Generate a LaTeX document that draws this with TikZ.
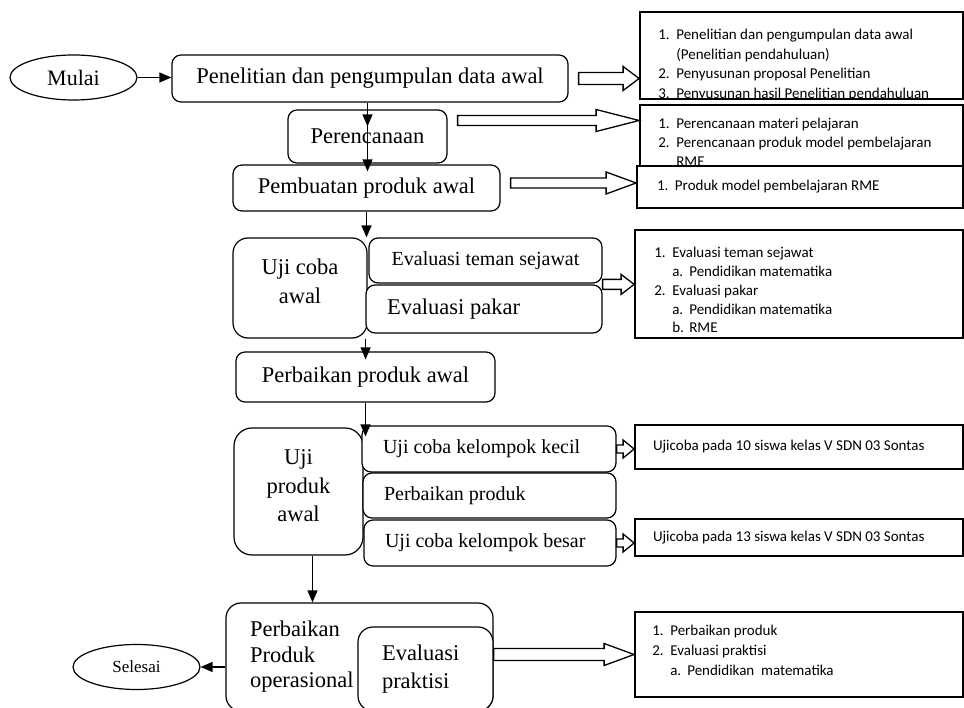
\documentclass[tikz,border=0pt]{standalone}
\usepackage{fontspec}
\setmainfont{Liberation Serif}
\newfontfamily\calibri{Carlito}
\usetikzlibrary{shapes.geometric,arrows.meta,positioning,calc}

\newcommand{\itm}[2]{\makebox[18pt][l]{#1}#2}
\newcommand{\subitm}[2]{\hspace*{18pt}\makebox[17pt][l]{#1}#2}
\newcommand{\hollowarrow}[5]{%
  \draw[hollow] let \p1=#1, \p2=#2 in
    (\x1,\y1+#3) -- (\x2-#5,\y1+#3) -- (\x2-#5,\y1+#4) -- (\x2,\y1)
    -- (\x2-#5,\y1-#4) -- (\x2-#5,\y1-#3) -- (\x1,\y1-#3) -- cycle;}

\begin{document}
\begin{tikzpicture}[x=1pt, y=-1pt,
    proc/.style={rectangle, rounded corners=9pt, draw, line width=1.2pt, fill=white,
                 inner sep=0pt, align=center, font=\fontsize{22.5}{29}\selectfont},
    sub/.style={proc, font=\fontsize{20}{24}\selectfont},
    term/.style={ellipse, draw, line width=1.2pt, inner sep=0pt,
                 minimum width=127pt, minimum height=45pt},
    note/.style={rectangle, draw, line width=1.8pt, fill=white, inner ysep=0pt,
                 font=\calibri\fontsize{15}{18.5}\selectfont},
    items/.style={inner sep=0pt, anchor=north west, align=left,
                  font=\calibri\fontsize{15}{18.8}\selectfont},
    hollow/.style={draw, line width=1.3pt, fill=white, line join=miter},
    arr/.style={-{Triangle[length=12pt,width=10pt]}, line width=1.3pt}
]
\fill[white] (0,0) rectangle (964,708);
\useasboundingbox (0,0) rectangle (964,708);

\node[term, font=\fontsize{22}{26}\selectfont] (mulai) at (73.5,77.5) {Mulai};
\node[proc, minimum width=396pt, minimum height=47pt] (penelitian) at (370,78.5) {Penelitian dan pengumpulan data awal};
\node[proc, minimum width=159pt, minimum height=53pt] (perencanaan) at (367.5,136.5) {Perencanaan};
\node[proc, minimum width=267pt, minimum height=46pt] (pembuatan) at (366.5,188) {Pembuatan produk awal};
\node[proc, rounded corners=15pt, minimum width=134pt, minimum height=100pt, text depth=14pt] (ujiawal) at (300,288) {Uji coba\\awal};
\node[sub, minimum width=233pt, minimum height=45pt] (evteman) at (485.5,260.5) {Evaluasi teman sejawat};
\node[proc, inner xsep=21pt, minimum height=48pt] (evpakar) at (484,309) {\makebox[194pt][l]{Evaluasi pakar}};
\node[proc, minimum width=259pt, minimum height=50pt] (perbaikanawal) at (365.5,377) {Perbaikan produk awal};
\node[proc, rounded corners=18pt, minimum width=129pt, minimum height=127pt, text depth=11pt,
      font=\fontsize{22.5}{28.5}\selectfont] (ujiproduk) at (298.5,491.5) {Uji\\produk\\awal};
\node[sub, inner xsep=21pt, minimum height=46pt] (kecil) at (489,449) {\makebox[212pt][l]{Uji coba kelompok kecil}};
\node[sub, inner xsep=21pt, minimum height=45pt] (perbproduk) at (489.5,495.5) {\makebox[211pt][l]{Perbaikan produk}};
\node[sub, inner xsep=21pt, minimum height=46pt] (besar) at (490,543) {\makebox[210pt][l]{Uji coba kelompok besar}};
\node[proc, rounded corners=15pt, inner xsep=24pt, text width=219pt, align=left, minimum height=108pt,
      font=\fontsize{22.5}{25.5}\selectfont] (operasional) at (359.5,657) {Perbaikan\\Produk\\operasional};
\node[proc, rounded corners=15pt, inner xsep=24pt, text width=87pt, align=left, minimum height=84pt,
      font=\fontsize{22.5}{28}\selectfont] (evpraktisi) at (425.5,669) {Evaluasi\\praktisi};
\node[term, font=\fontsize{17}{20}\selectfont] (selesai) at (136.5,667) {Selesai};

\node[note, minimum width=323pt, minimum height=87pt] (tb1) at (801.5,55.5) {};
\begin{scope}
\clip (tb1.south west) rectangle (tb1.north east);
\node[items, font=\calibri\fontsize{15}{19.5}\selectfont] (tb1txt) at ([xshift=19pt,yshift=-18pt]tb1.north west)
  {\itm{1.}{Penelitian dan pengumpulan data awal}\\
   \hspace*{18pt}(Penelitian pendahuluan)\\
   \itm{2.}{Penyusunan proposal Penelitian}\\
   \itm{3.}{Penyusunan hasil Penelitian pendahuluan}};
\end{scope}
\node[note, minimum width=323pt, minimum height=70pt] (tb2) at (801.5,140) {};
\begin{scope}
\clip (tb2.south west) rectangle (tb2.north east);
\node[items] (tb2txt) at ([xshift=19pt,yshift=-14pt]tb2.north west)
  {\itm{1.}{Perencanaan materi pelajaran}\\
   \itm{2.}{Perencanaan produk model pembelajaran}\\
   \hspace*{18pt}RME};
\end{scope}
\node[note, inner xsep=20pt, minimum height=42pt] (tb3) at (800,187)
  {\makebox[286pt][l]{\itm{1.}{Produk model pembelajaran RME}}};
\node[note, minimum width=328pt, minimum height=108pt] (tb4) at (799,284) {};
\node[items] (tb4txt) at ([xshift=20pt,yshift=-18pt]tb4.north west)
  {\itm{1.}{Evaluasi teman sejawat}\\
   \subitm{a.}{Pendidikan matematika}\\
   \itm{2.}{Evaluasi pakar}\\
   \subitm{a.}{Pendidikan matematika}\\
   \subitm{b.}{RME}};
\node[note, inner xsep=18pt, minimum height=44pt] (tb5) at (799,447)
  {\makebox[292pt][l]{Ujicoba pada 10 siswa kelas V SDN 03 Sontas}};
\node[note, inner xsep=18pt, minimum height=37pt] (tb6) at (799,537.5)
  {\makebox[292pt][l]{Ujicoba pada 13 siswa kelas V SDN 03 Sontas}};
\node[note, minimum width=328pt, minimum height=85pt] (tb7) at (799,654.5) {};
\node[items, font=\calibri\fontsize{15}{20}\selectfont] (tb7txt) at ([xshift=18pt,yshift=-14pt]tb7.north west)
  {\itm{1.}{Perbaikan produk}\\
   \itm{2.}{Evaluasi praktisi}\\
   \subitm{a.}{Pendidikan\ \ matematika}};

\draw[arr] (mulai.east) -- (mulai.east -| penelitian.west);
\draw[arr] (penelitian.south -| perencanaan.north) -- ($(perencanaan.north)+(0,17)$);
\draw[arr] ($(perencanaan.north)+(0,17)$) -- ($(perencanaan.north |- pembuatan.north)+(0,7)$);
\draw[arr] (pembuatan.south) -- (pembuatan.south |- ujiawal.north);
\draw[arr] ($(ujiawal.south east)+(-2,0)$) -- ($(ujiawal.south east |- perbaikanawal.north)+(-2,8)$);
\draw[arr] (perbaikanawal.south) -- ($(perbaikanawal.south |- kecil.north)+(0,11)$);
\draw[arr] ($(ujiproduk.south)+(14,0)$) -- ($(ujiproduk.south |- operasional.north)+(14,0)$);
\draw[arr] (operasional.west |- selesai) -- (selesai);

\hollowarrow{([xshift=10pt]penelitian.east)}{(tb1.west)}{6pt}{12pt}{16pt}
\hollowarrow{([xshift=10pt,yshift=16pt]perencanaan.east)}{(tb2.west)}{5pt}{11pt}{43pt}
\hollowarrow{([xshift=10pt,yshift=5pt]pembuatan.east)}{(tb3.west)}{5pt}{11pt}{30pt}
\hollowarrow{(evpakar.north east)}{(tb4.west)}{5pt}{10pt}{13pt}
\hollowarrow{(kecil.east)}{(tb5.west)}{4pt}{9pt}{11pt}
\hollowarrow{(besar.east)}{(tb6.west)}{4pt}{9pt}{11pt}
\hollowarrow{(operasional.east |- tb7.west)}{(tb7.west)}{6pt}{11pt}{30pt}
\end{tikzpicture}
\end{document}
